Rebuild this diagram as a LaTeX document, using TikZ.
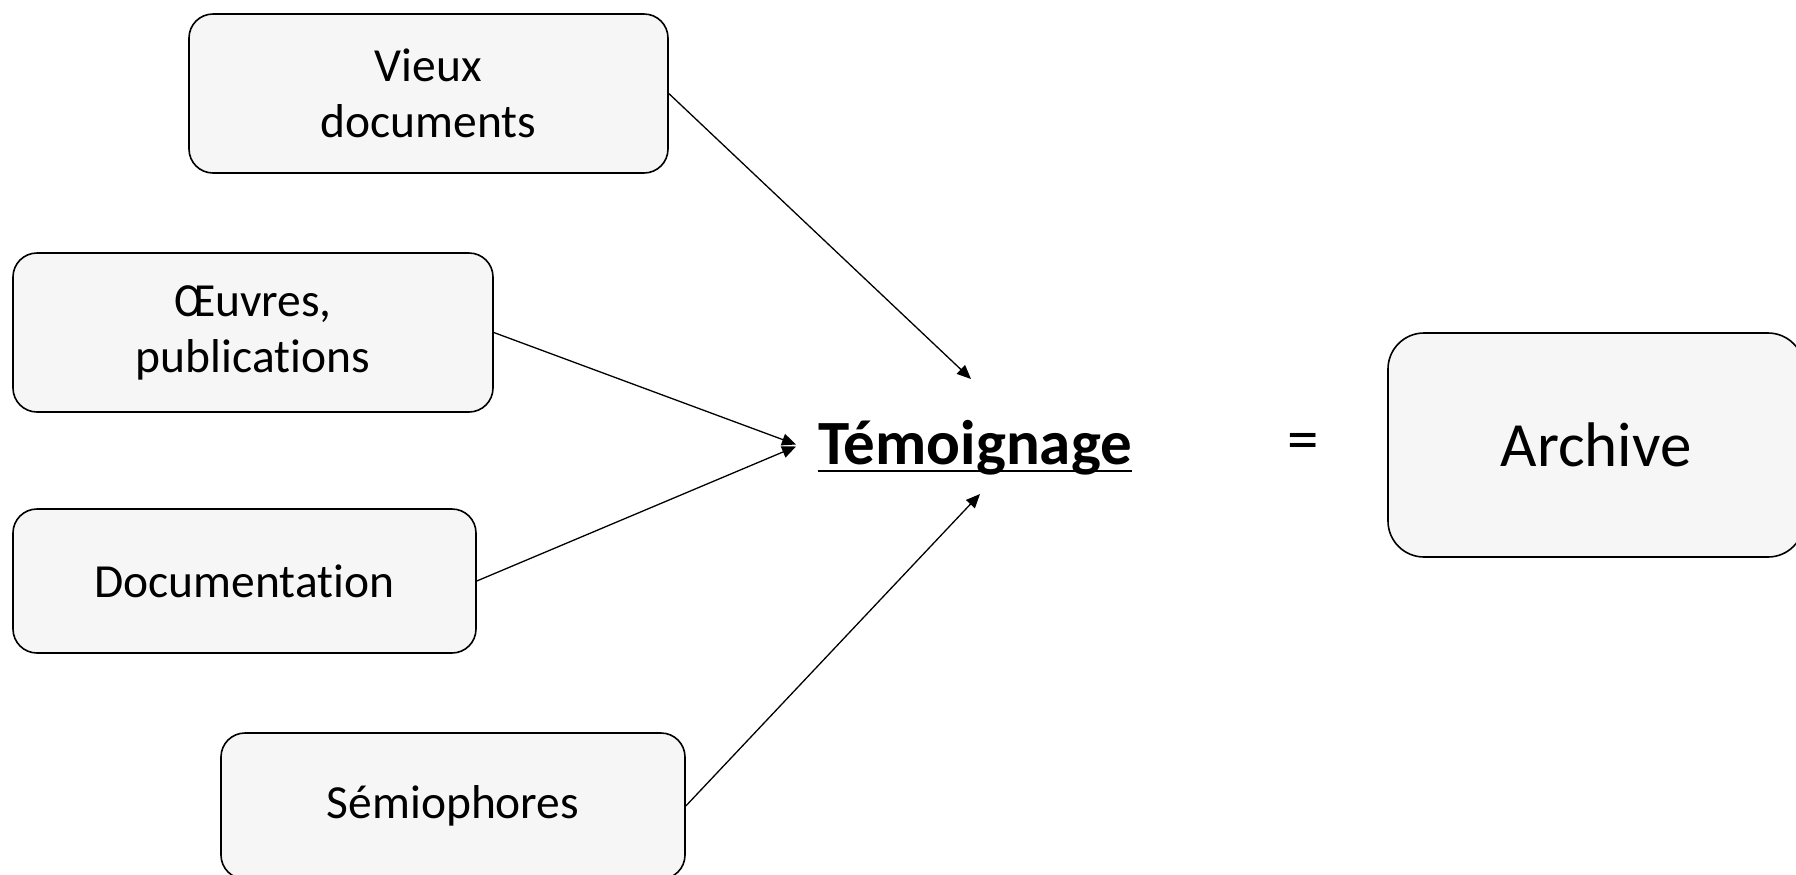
\documentclass[tikz,border=0pt]{standalone}
\usepackage{fontspec}
\setmainfont[Ligatures=NoCommon]{Carlito}
\usetikzlibrary{arrows.meta}
\definecolor{boxfill}{HTML}{F6F6F6}
\tikzset{
  box/.style={draw=black, line width=0.8pt, fill=boxfill, rounded corners=12pt,
    align=center, font=\fontsize{23.75}{28}\selectfont, inner sep=0pt},
  conn/.style={line width=0.65pt, -{Triangle[length=7pt,width=6pt]}},
  big/.style={font=\fontsize{31.5}{36}\selectfont, inner sep=0pt}
}
\begin{document}
\begin{tikzpicture}[x=0.5pt,y=-0.5pt]
\useasboundingbox (0,0) rectangle (1796,874);
\clip (0,0) rectangle (1796,874);
\node[box, minimum width=239.5pt, minimum height=79.5pt] (v) at (428.5,93.5) {Vieux\\documents};
\node[box, minimum width=240pt, minimum height=79.5pt] (o) at (253,332.5) {Œuvres,\\publications};
\node[box, minimum width=231.5pt, minimum height=72pt] (d) at (244.5,581) {Documentation};
\node[box, minimum width=232pt, minimum height=73pt] (s) at (453,806) {Sémiophores};
\node[box, big, rounded corners=18pt, minimum width=208pt, minimum height=112pt] (a) at (1596,445) {Archive};
\node[big, font=\fontsize{31.5}{36}\selectfont\bfseries, anchor=base] (tem) at (975,464) {Témoignage};
\draw[line width=1.2pt] ([yshift=-3.5pt]tem.base west) -- ([yshift=-3.5pt]tem.base east);
\node[big] (eq) at (1303,447) {=};
\coordinate (t1) at (971,379);
\coordinate (t2) at (796,444.5);
\coordinate (t3) at (796,446.5);
\coordinate (t4) at (980,494);
\draw[conn] (v.east) -- (t1);
\draw[conn] (o.east) -- (t2);
\draw[conn] (d.east) -- (t3);
\draw[conn] (s.east) -- (t4);
\end{tikzpicture}
\end{document}
